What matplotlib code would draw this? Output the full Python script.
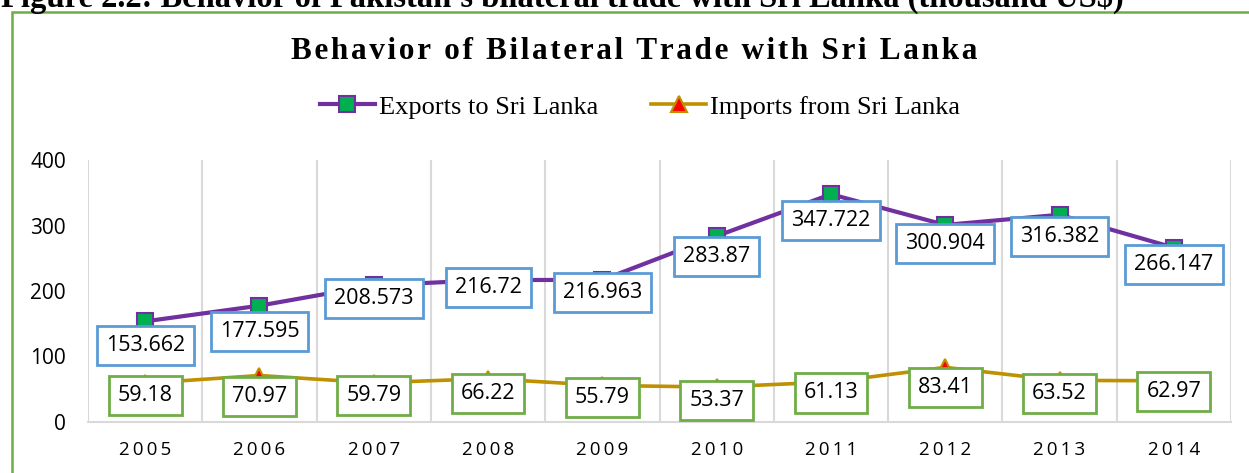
import matplotlib.pyplot as plt
from matplotlib.patches import Rectangle

years = ["2005", "2006", "2007", "2008", "2009", "2010", "2011", "2012", "2013", "2014"]
exports = [153.662, 177.595, 208.573, 216.72, 216.963, 283.87, 347.722, 300.904, 316.382, 266.147]
imports = [59.18, 70.97, 59.79, 66.22, 55.79, 53.37, 61.13, 83.41, 63.52, 62.97]
export_text = ["153.662", "177.595", "208.573", "216.72", "216.963", "283.87", "347.722", "300.904", "316.382", "266.147"]
import_text = ["59.18", "70.97", "59.79", "66.22", "55.79", "53.37", "61.13", "83.41", "63.52", "62.97"]

title = "Behavior of Bilateral Trade with Sri Lanka"
caption = "Figure 2.2: Behavior of Pakistan's bilateral trade with Sri Lanka (thousand US$)"

# label box offsets below each point (pixels)
exp_drop = [24, 26, 13, 7, 13, 20, 26, 19, 22, 17]
imp_drop = [12, 21, 13, 15, 12, 13, 11, 20, 13, 11]

W, H = 1249, 473
fig = plt.figure(figsize=(W / 100, H / 100), dpi=100)
ax = fig.add_axes([88 / W, 1 - 422 / H, (1231 - 88) / W, (422 - 160) / H])

x = list(range(len(years)))
purple = "#7030A0"
gold = "#BF9000"

ax.plot(x, exports, color=purple, lw=3, marker="s", ms=11, mfc="#00B050",
        mec=purple, mew=1.5, label="Exports to Sri Lanka", zorder=3)
ax.plot(x, imports, color=gold, lw=2.6, marker="^", ms=11, mfc="#FF0000",
        mec=gold, mew=1.5, label="Imports from Sri Lanka", zorder=3)

for i in x:
    ax.annotate(export_text[i], (i, exports[i]), xytext=(0, -exp_drop[i] * 0.72),
                textcoords="offset points", ha="center", va="center",
                fontsize=15.5, family="Open Sans", zorder=5,
                bbox=dict(boxstyle="square,pad=0.42", fc="white", ec="#5B9BD5", lw=2))
    ax.annotate(import_text[i], (i, imports[i]), xytext=(0, -imp_drop[i] * 0.72),
                textcoords="offset points", ha="center", va="center",
                fontsize=15.5, family="Open Sans", zorder=5,
                bbox=dict(boxstyle="square,pad=0.42", fc="white", ec="#70AD47", lw=2))

ax.set_xlim(-0.5, len(years) - 0.5)
ax.set_ylim(0, 400)
ax.set_yticks([0, 100, 200, 300, 400])
ax.set_xticks(x)
ax.set_xticklabels(["\u2009".join(y) for y in years], fontsize=13.5, family="Open Sans")
ax.set_xticks([i - 0.5 for i in range(len(years) + 1)], minor=True)
ax.grid(axis="x", which="minor", color="#D9D9D9", lw=1.5)
ax.tick_params(axis="both", which="both", length=0)
ax.tick_params(axis="y", labelsize=15, pad=16)
ax.tick_params(axis="x", pad=14)
for lab in ax.get_yticklabels():
    lab.set_family("Open Sans")
for s in ["top", "right", "left"]:
    ax.spines[s].set_visible(False)
ax.spines["bottom"].set_color("#D9D9D9")
ax.spines["bottom"].set_linewidth(1.5)

fig.legend(loc="center", bbox_to_anchor=(640 / W, 1 - 107 / H), ncol=2,
           frameon=False, prop={"family": "Liberation Serif", "size": 19},
           handlelength=2.1, columnspacing=2, handletextpad=0.15)

fig.text(634 / W, 1 - 59 / H, "\u200a".join(title),
         ha="center", va="baseline", fontsize=22.5, fontweight="bold",
         family=["Liberation Serif", "DejaVu Serif"])
fig.text(1 / W, 1 - 7 / H, caption,
         ha="left", va="baseline", fontsize=23.5, fontweight="bold",
         family="Liberation Serif")

fig.patches.append(Rectangle((12 / W, -0.05), 1.1, 1 - 12 / H + 0.05,
                             transform=fig.transFigure, fill=False,
                             ec="#70AD47", lw=1.8, clip_on=False))

fig.savefig("out.png", dpi=100)
